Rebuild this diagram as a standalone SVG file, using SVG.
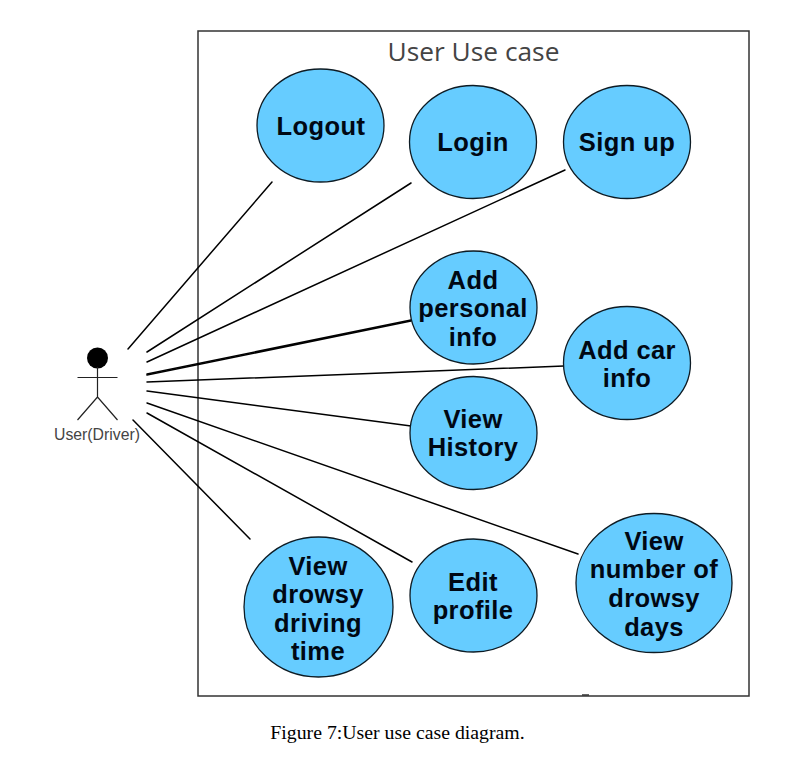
<svg xmlns="http://www.w3.org/2000/svg" width="801" height="758" viewBox="0 0 801 758">
<style>
.uc{fill:#66ccff;stroke:#0d1b24;stroke-width:1.3}
.t{font-family:"Liberation Sans",Arial,sans-serif;font-weight:700;font-size:25.500px;letter-spacing:.4px;fill:#000814;text-anchor:middle}
.c line{stroke:#000;stroke-width:1.5;stroke-linecap:round}
</style>
<rect width="801" height="758" fill="#fff"/>
<g id="boundary">
<rect x="198" y="31" width="551" height="665" fill="none" stroke="#333" stroke-width="1.5"/>
<path d="M582 695H589" stroke="#333" stroke-width="1.500" fill="none"/>
<text x="473.500" y="61" font-family="'Open Sans','DejaVu Sans',sans-serif" font-size="26.300" fill="#444" text-anchor="middle">User Use case</text>
</g>
<g id="connectors" class="c">
<line x1="128" y1="349" x2="272" y2="182"/>
<line x1="147" y1="352" x2="411" y2="183"/>
<line x1="147" y1="362" x2="565" y2="170"/>
<line x1="147" y1="374" x2="411" y2="320"/>
<line x1="147" y1="375" x2="411" y2="321"/>
<line x1="147" y1="382" x2="564" y2="366"/>
<line x1="147" y1="391" x2="411" y2="426"/>
<line x1="147" y1="403" x2="578" y2="554"/>
<line x1="147" y1="413" x2="412" y2="562"/>
<line x1="133" y1="420" x2="250" y2="539"/>
</g>
<g id="actor">
<circle cx="97.500" cy="358" r="10.500" fill="#000"/>
<g fill="none" stroke="#222" stroke-width="1.2">
<path d="M97.500 367V397M77.500 377.500H117.500M77.500 420L97.500 397L117.500 420"/>
</g>
<text x="97" y="440" font-family="'Liberation Sans',Arial,sans-serif" font-size="15.800" fill="#444" text-anchor="middle">User(Driver)</text>
</g>
<g id="logout"><ellipse class="uc" cx="320.500" cy="125.500" rx="63.500" ry="56.500"/><text class="t" x="321" y="135">Logout</text></g>
<g id="login"><ellipse class="uc" cx="473" cy="142" rx="63.500" ry="56.500"/><text class="t" x="473" y="151">Login</text></g>
<g id="signup"><ellipse class="uc" cx="627" cy="142" rx="63.500" ry="56.500"/><text class="t" x="627" y="151">Sign up</text></g>
<g id="personal"><ellipse class="uc" cx="473.500" cy="307.500" rx="63.500" ry="56.500"/><text class="t" x="473" y="289">Add</text><text class="t" x="473" y="317">personal</text><text class="t" x="473" y="346">info</text></g>
<g id="car"><ellipse class="uc" cx="627" cy="363" rx="63.500" ry="56.500"/><text class="t" x="627" y="359">Add car</text><text class="t" x="627" y="387">info</text></g>
<g id="history"><ellipse class="uc" cx="473.500" cy="433" rx="63.500" ry="56.500"/><text class="t" x="473" y="428">View</text><text class="t" x="473" y="456">History</text></g>
<g id="time"><ellipse class="uc" cx="318.500" cy="607" rx="74.500" ry="70"/><text class="t" x="318" y="575">View</text><text class="t" x="318" y="603">drowsy</text><text class="t" x="318" y="632">driving</text><text class="t" x="318" y="660">time</text></g>
<g id="edit"><ellipse class="uc" cx="473.500" cy="595.500" rx="63.500" ry="56.500"/><text class="t" x="473" y="591">Edit</text><text class="t" x="473" y="619">profile</text></g>
<g id="days"><ellipse class="uc" cx="654" cy="583" rx="78" ry="69.500"/><text class="t" x="654" y="550">View</text><text class="t" x="654" y="578">number of</text><text class="t" x="654" y="607">drowsy</text><text class="t" x="654" y="636">days</text></g>
<text x="397.500" y="739" font-family="'Liberation Serif','Times New Roman',serif" font-size="19.800" fill="#000" text-anchor="middle">Figure 7:User use case diagram.</text>
</svg>
